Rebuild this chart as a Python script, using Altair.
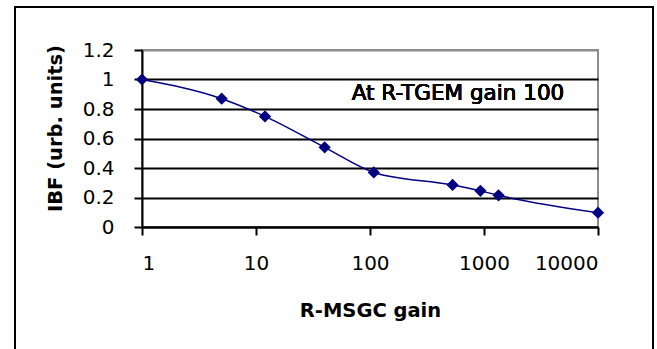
import altair as alt
import pandas as pd

# R-MSGC gain vs. ion back-flow (IBF), normalised
gain = [1, 5, 12, 40, 108, 530, 930, 1340, 10000]
ibf = [1.0, 0.87, 0.75, 0.54, 0.37, 0.285, 0.245, 0.215, 0.097]

x_ticks = [1, 10, 100, 1000, 10000]
y_ticks = [0, 0.2, 0.4, 0.6, 0.8, 1.0, 1.2]

df = pd.DataFrame({"gain": gain, "ibf": ibf})

FONT = "DejaVu Sans"
NAVY = "#000080"

x_enc = alt.X(
    "gain:Q",
    scale=alt.Scale(type="log", domain=[1, 10000]),
    axis=alt.Axis(
        values=x_ticks, format="~g", title="R-MSGC gain", grid=False,
        tickSize=8, labelPadding=18, titlePadding=28, labelOverlap=False,
    ),
)
y_enc = alt.Y(
    "ibf:Q",
    scale=alt.Scale(domain=[0, 1.2], nice=False),
    axis=alt.Axis(
        values=y_ticks, format="~g", title="IBF (urb. units)",
        tickSize=8, labelPadding=20, titlePadding=17, titleY=78, labelOverlap=False,
        gridColor={"condition": {"test": "datum.value == 1.2", "value": "#8c8c8c"},
                   "value": "black"},
    ),
)

line = alt.Chart(df).mark_line(color=NAVY, strokeWidth=1.5, interpolate="monotone").encode(
    x=x_enc, y=y_enc
)
points = alt.Chart(df).mark_point(shape="diamond", filled=True, color=NAVY, size=150, opacity=1).encode(
    x=x_enc, y=y_enc
)

note = alt.Chart(df).mark_text(
    text="At R-TGEM gain 100", font=FONT, fontSize=21.5, color="black", align="center", baseline="middle"
).encode(x=alt.value(316), y=alt.value(44))

# outer chart frame
frame = alt.Chart(df).mark_rect(
    fill=None, stroke="black", strokeWidth=2, clip=False
).encode(x=alt.value(-127), x2=alt.value(511), y=alt.value(-43), y2=alt.value(330))

chart = (
    alt.layer(frame, line, points, note)
    .properties(
        width=456, height=177,
        background="white",
        autosize=alt.AutoSizeParams(type="none"),
        padding={"left": 142, "top": 50, "right": 59, "bottom": 122},
    )
    .configure_view(stroke="#8c8c8c", strokeWidth=2)
    .configure_axis(
        domainColor="black", domainWidth=2, tickColor="black", tickWidth=2,
        gridWidth=2, labelFont=FONT, labelFontSize=20, labelColor="black",
        titleFont=FONT, titleFontSize=19.5, titleFontWeight="bold", titleColor="black",
    )
)

chart.save("out.html", embed_options={"renderer": "svg", "actions": False})
